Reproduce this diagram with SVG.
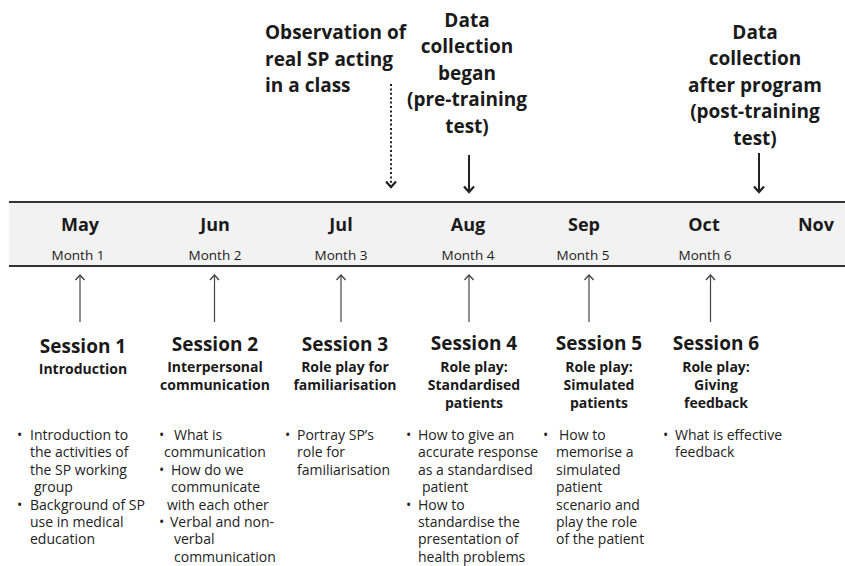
<svg xmlns="http://www.w3.org/2000/svg" width="845" height="566" viewBox="0 0 845 566">
<defs>
<style>
text{font-family:"Open Sans","Noto Sans","Liberation Sans",sans-serif;fill:#1a1a1a}
.ann{font-size:19px;font-weight:bold;text-anchor:middle}
.annl{font-size:19px;font-weight:bold}
.mon{font-size:18px;font-weight:bold;text-anchor:middle}
.mn{font-size:13.5px;text-anchor:middle}
.sh{font-size:19px;font-weight:bold;text-anchor:middle}
.ss{font-size:14px;font-weight:bold;text-anchor:middle}
.b{font-size:14px;fill:#222}
.up{stroke:#444;stroke-width:1.2;fill:none}
.dn{stroke:#222;stroke-width:2;fill:none}
</style>
<marker id="ahUp" markerWidth="12" markerHeight="12" refX="6" refY="1" orient="0" markerUnits="userSpaceOnUse">
<path d="M1.5,6 L6,1 L10.5,6" fill="none" stroke="#444" stroke-width="1.4"/>
</marker>
<marker id="ahDn" markerWidth="14" markerHeight="14" refX="7" refY="12" orient="0" markerUnits="userSpaceOnUse">
<path d="M2,6.5 L7,12 L12,6.5" fill="none" stroke="#222" stroke-width="2.2"/>
</marker>
</defs>
<rect width="845" height="566" fill="#ffffff"/>

<g id="timeline">
<rect x="9" y="202" width="836" height="64" fill="#f2f2f2"/>
<line x1="9" y1="202" x2="845" y2="202" stroke="#333" stroke-width="2.2"/>
<line x1="9" y1="266" x2="845" y2="266" stroke="#333" stroke-width="2"/>
<text class="mon" x="80" y="231">May</text>
<text class="mon" x="215" y="231">Jun</text>
<text class="mon" x="341" y="231">Jul</text>
<text class="mon" x="468" y="231">Aug</text>
<text class="mon" x="584" y="231">Sep</text>
<text class="mon" x="704" y="231">Oct</text>
<text class="mon" x="816" y="231">Nov</text>
<text class="mn" x="78" y="260">Month 1</text>
<text class="mn" x="215" y="260">Month 2</text>
<text class="mn" x="341" y="260">Month 3</text>
<text class="mn" x="468" y="260">Month 4</text>
<text class="mn" x="583" y="260">Month 5</text>
<text class="mn" x="705" y="260">Month 6</text>
</g>

<g id="observation">
<text class="annl" x="265" y="39">Observation of</text>
<text class="annl" x="265" y="65.5">real SP acting</text>
<text class="annl" x="265" y="92">in a class</text>
</g>

<g id="pretest">
<text class="ann" x="467" y="26.5">Data</text>
<text class="ann" x="467" y="53">collection</text>
<text class="ann" x="467" y="79.5">began</text>
<text class="ann" x="467" y="106">(pre-training</text>
<text class="ann" x="467" y="132.5">test)</text>
</g>

<g id="posttest">
<text class="ann" x="755" y="38.5">Data</text>
<text class="ann" x="755" y="65">collection</text>
<text class="ann" x="755" y="91.5">after program</text>
<text class="ann" x="755" y="118">(post-training</text>
<text class="ann" x="755" y="144.5">test)</text>
</g>

<g id="connectors">
<line class="dn" x1="391" y1="84" x2="391" y2="187" stroke-dasharray="2 2.4" stroke-width="2.2" marker-end="url(#ahDn)"/>
<line class="dn" x1="469" y1="155" x2="469" y2="192" marker-end="url(#ahDn)"/>
<line class="dn" x1="759" y1="153" x2="759" y2="192" marker-end="url(#ahDn)"/>
<line class="up" x1="80" y1="322" x2="80" y2="275" marker-end="url(#ahUp)"/>
<line class="up" x1="214.5" y1="322" x2="214.5" y2="275" marker-end="url(#ahUp)"/>
<line class="up" x1="341" y1="322" x2="341" y2="275" marker-end="url(#ahUp)"/>
<line class="up" x1="469" y1="322" x2="469" y2="275" marker-end="url(#ahUp)"/>
<line class="up" x1="589" y1="322" x2="589" y2="275" marker-end="url(#ahUp)"/>
<line class="up" x1="710.5" y1="322" x2="710.5" y2="275" marker-end="url(#ahUp)"/>
</g>

<g id="session1">
<text class="sh" x="83" y="353">Session 1</text>
<text class="ss" x="83" y="374">Introduction</text>
<text class="b" x="17" y="440">•</text>
<text class="b" x="30" y="440">Introduction to</text>
<text class="b" x="30" y="457.4">the activities of</text>
<text class="b" x="30" y="474.8">the SP working</text>
<text class="b" x="34" y="492.2">group</text>
<text class="b" x="17" y="509.6">•</text>
<text class="b" x="30" y="509.6">Background of SP</text>
<text class="b" x="30" y="527">use in medical</text>
<text class="b" x="30" y="544.4">education</text>
</g>

<g id="session2">
<text class="sh" x="215" y="351">Session 2</text>
<text class="ss" x="215" y="372">Interpersonal</text>
<text class="ss" x="215" y="390">communication</text>
<text class="b" x="159" y="440">•</text>
<text class="b" x="174" y="440">What is</text>
<text class="b" x="164" y="457.4">communication</text>
<text class="b" x="159" y="474.8">•</text>
<text class="b" x="171" y="474.8">How do we</text>
<text class="b" x="171" y="492.2">communicate</text>
<text class="b" x="167" y="509.6">with each other</text>
<text class="b" x="159" y="527">•</text>
<text class="b" x="170" y="527">Verbal and non-</text>
<text class="b" x="174" y="544.4">verbal</text>
<text class="b" x="174" y="561.8">communication</text>
</g>

<g id="session3">
<text class="sh" x="345" y="351">Session 3</text>
<text class="ss" x="345" y="372">Role play for</text>
<text class="ss" x="345" y="390">familiarisation</text>
<text class="b" x="285" y="440">•</text>
<text class="b" x="297" y="440">Portray SP’s</text>
<text class="b" x="297" y="457.4">role for</text>
<text class="b" x="297" y="474.8">familiarisation</text>
</g>

<g id="session4">
<text class="sh" x="474" y="350">Session 4</text>
<text class="ss" x="474" y="371.5">Role play:</text>
<text class="ss" x="474" y="389.5">Standardised</text>
<text class="ss" x="474" y="407.5">patients</text>
<text class="b" x="406" y="440">•</text>
<text class="b" x="418" y="440">How to give an</text>
<text class="b" x="418" y="457.4">accurate response</text>
<text class="b" x="418" y="474.8">as a standardised</text>
<text class="b" x="422" y="492.2">patient</text>
<text class="b" x="406" y="509.6">•</text>
<text class="b" x="418" y="509.6">How to</text>
<text class="b" x="418" y="527">standardise the</text>
<text class="b" x="418" y="544.4">presentation of</text>
<text class="b" x="418" y="561.8">health problems</text>
</g>

<g id="session5">
<text class="sh" x="599" y="350">Session 5</text>
<text class="ss" x="599" y="371.5">Role play:</text>
<text class="ss" x="599" y="389.5">Simulated</text>
<text class="ss" x="599" y="407.5">patients</text>
<text class="b" x="543" y="440">•</text>
<text class="b" x="559" y="440">How to</text>
<text class="b" x="556" y="457.4">memorise a</text>
<text class="b" x="556" y="474.8">simulated</text>
<text class="b" x="556" y="492.2">patient</text>
<text class="b" x="556" y="509.6">scenario and</text>
<text class="b" x="556" y="527">play the role</text>
<text class="b" x="556" y="544.4">of the patient</text>
</g>

<g id="session6">
<text class="sh" x="716" y="350">Session 6</text>
<text class="ss" x="716" y="371.5">Role play:</text>
<text class="ss" x="716" y="389.5">Giving</text>
<text class="ss" x="716" y="407.5">feedback</text>
<text class="b" x="663" y="440">•</text>
<text class="b" x="675" y="440">What is effective</text>
<text class="b" x="675" y="457.4">feedback</text>
</g>
</svg>
